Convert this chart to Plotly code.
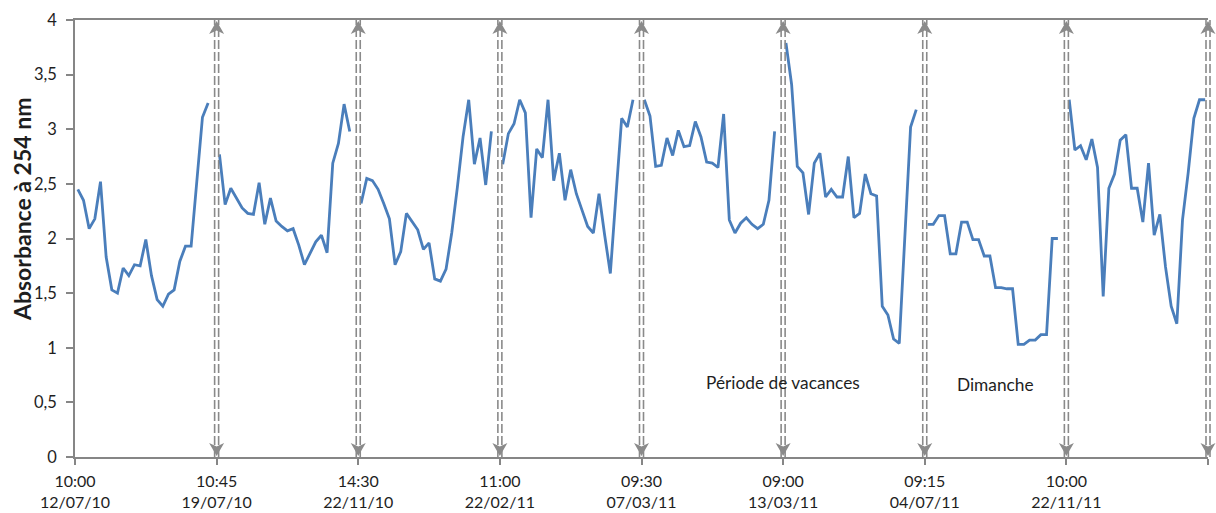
import plotly.graph_objects as go

# ---- data (absorbance readings, 8 campaigns of 24-25 samples) ----
seg1 = [2.45, 2.35, 2.09, 2.18, 2.52, 1.83, 1.53, 1.50, 1.73, 1.66, 1.76, 1.75,
        1.99, 1.66, 1.44, 1.38, 1.49, 1.53, 1.79, 1.93, 1.93, 2.55, 3.11, 3.24]
seg2 = [2.77, 2.31, 2.46, 2.37, 2.28, 2.23, 2.22, 2.51, 2.13, 2.37, 2.16, 2.11,
        2.07, 2.09, 1.94, 1.76, 1.86, 1.97, 2.03, 1.87, 2.69, 2.87, 3.23, 2.98]
seg3 = [2.32, 2.55, 2.53, 2.45, 2.32, 2.18, 1.76, 1.88, 2.23, 2.15, 2.08, 1.90,
        1.96, 1.63, 1.61, 1.72, 2.05, 2.47, 2.93, 3.27, 2.68, 2.92, 2.49, 2.98]
seg4 = [2.68, 2.96, 3.05, 3.27, 3.15, 2.19, 2.82, 2.74, 3.27, 2.53, 2.78, 2.35,
        2.63, 2.41, 2.26, 2.11, 2.05, 2.41, 2.03, 1.68, 2.40, 3.10, 3.02, 3.27]
seg5 = [3.27, 3.12, 2.66, 2.67, 2.92, 2.76, 2.99, 2.84, 2.85, 3.07, 2.93, 2.70,
        2.69, 2.65, 3.14, 2.17, 2.05, 2.14, 2.19, 2.13, 2.09, 2.13, 2.35, 2.98]
seg6 = [3.79, 3.41, 2.66, 2.60, 2.22, 2.69, 2.78, 2.38, 2.45, 2.38, 2.38, 2.75,
        2.19, 2.23, 2.59, 2.41, 2.39, 1.38, 1.30, 1.08, 1.04, 2.00, 3.02, 3.18]
seg7 = [2.13, 2.13, 2.21, 2.21, 1.86, 1.86, 2.15, 2.15, 1.99, 1.99, 1.84, 1.84,
        1.55, 1.55, 1.54, 1.54, 1.03, 1.03, 1.07, 1.07, 1.12, 1.12, 2.00, 2.00]
seg8 = [3.27, 2.81, 2.85, 2.72, 2.91, 2.65, 1.47, 2.46, 2.59, 2.90, 2.95, 2.46,
        2.46, 2.15, 2.69, 2.03, 2.22, 1.74, 1.38, 1.22, 2.17, 2.60, 3.10, 3.27, 3.27]

tick_times = ["10:00", "10:45", "14:30", "11:00", "09:30", "09:00", "09:15", "10:00", ""]
tick_dates = ["12/07/10", "19/07/10", "22/11/10", "22/02/11", "07/03/11", "13/03/11",
              "04/07/11", "22/11/11", ""]

y_title = "Absorbance à 254 nm"
note_labels = ["Période de vacances", "Dimanche"]
note_x = [124.5, 162.0]
note_y = [0.68, 0.66]

SLOTS = 25  # category slots per campaign

segments = [seg1, seg2, seg3, seg4, seg5, seg6, seg7, seg8]
xs, ys = [], []
for k, seg in enumerate(segments):
    for i in range(SLOTS):
        xs.append(k * SLOTS + i)
        ys.append(seg[i] if i < len(seg) else None)

n_total = SLOTS * len(segments)
xmin, xmax = -0.5, n_total - 0.5
boundaries = [xmin + SLOTS * k for k in range(len(segments) + 1)]
ticktext = [f"{t}<br>{d}" if t else "" for t, d in zip(tick_times, tick_dates)]

AX = "#868686"
ARROW = "#8A8A8A"
TXT = "#1e1e1e"
FONT = "Lato"

fig = go.Figure()
fig.add_trace(go.Scatter(x=xs, y=ys, mode="lines", connectgaps=False,
                         line=dict(color="#4A7EBB", width=2.8),
                         hoverinfo="skip"))

shapes = []
for b in boundaries[1:]:
    fx = (b - xmin) / (xmax - xmin)
    for off in (-2.0, 2.0):
        shapes.append(dict(type="line", xref="paper", yref="paper",
                           xsizemode="pixel", xanchor=fx, x0=off, x1=off,
                           y0=0, y1=1,
                           line=dict(color=ARROW, width=1.6, dash="9px,3px"),
                           layer="above"))
    shapes.append(dict(type="path", xref="paper", yref="paper",
                       xsizemode="pixel", xanchor=fx,
                       ysizemode="pixel", yanchor=1,
                       path="M0,-1 L7.5,-14 L0,-10.5 L-7.5,-14 Z",
                       fillcolor=ARROW, line=dict(width=0), layer="above"))
    shapes.append(dict(type="path", xref="paper", yref="paper",
                       xsizemode="pixel", xanchor=fx,
                       ysizemode="pixel", yanchor=0,
                       path="M0,1 L7.5,14 L0,10.5 L-7.5,14 Z",
                       fillcolor=ARROW, line=dict(width=0), layer="above"))

annotations = [
    dict(text=y_title, xref="paper", yref="paper", x=0, xshift=-53,
         y=(457 - 210) / 437, textangle=-90, showarrow=False,
         xanchor="center", yanchor="middle",
         font=dict(family=FONT, size=23, color=TXT, weight="bold")),
]
for lab, nx, ny in zip(note_labels, note_x, note_y):
    annotations.append(dict(text=lab, x=nx, y=ny, xref="x", yref="y",
                            showarrow=False, xanchor="center", yanchor="middle",
                            font=dict(family=FONT, size=17.3, color=TXT)))

fig.update_layout(
    width=1216, height=513,
    margin=dict(l=75, r=8, t=20, b=56, autoexpand=False),
    plot_bgcolor="white", paper_bgcolor="white",
    showlegend=False,
    separators=", ",
    shapes=shapes,
    annotations=annotations,
    xaxis=dict(range=[xmin, xmax], tickmode="array", tickvals=boundaries,
               ticktext=ticktext, ticks="outside", ticklen=6, tickwidth=1.5,
               tickcolor=AX, showline=True, linecolor=AX, linewidth=1.8,
               mirror=True, showgrid=False, zeroline=False, automargin=False,
               ticklabelstandoff=3,
               tickfont=dict(family=FONT, size=16, color=TXT)),
    yaxis=dict(range=[0, 4], tick0=0, dtick=0.5, ticks="outside", ticklen=7,
               tickwidth=1.5, tickcolor=AX, showline=True, linecolor=AX,
               linewidth=1.8, showgrid=False, zeroline=False, automargin=False,
               ticklabelstandoff=6,
               tickfont=dict(family=FONT, size=16.5, color=TXT)),
)

fig.write_html("out.html", config={"displayModeBar": False},
               post_script="document.body.style.margin='0';")
